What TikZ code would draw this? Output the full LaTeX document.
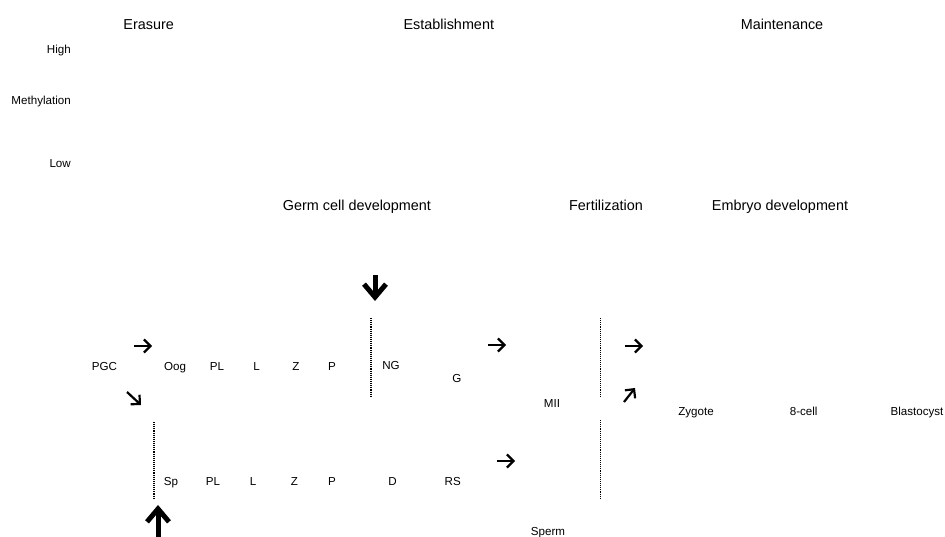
\documentclass[tikz,border=0pt]{standalone}
\usepackage{fontspec}
\setmainfont{Liberation Sans}
\usetikzlibrary{arrows.meta}
\tikzset{
  title/.style={font=\fontsize{14.4}{17}\selectfont, anchor=base, inner sep=0pt},
  lab/.style={font=\fontsize{11.6}{14}\selectfont, anchor=base, inner sep=0pt},
  axlab/.style={font=\fontsize{11.6}{14}\selectfont, anchor=base east, inner sep=0pt},
  thinarrow/.style={line width=2.2pt, -{Straight Barb[length=6.5pt,width=13pt]}},
  thickarrow/.style={line width=5pt, -{Straight Barb[length=13pt,width=22pt]}},
  divider/.style={densely dotted, line width=1.1pt}
}
\begin{document}
\begin{tikzpicture}[x=1pt,y=-1pt]
\useasboundingbox (0,0) rectangle (945,537);
% titles
\node[title] (erasure) at (148.7,29.3) {Erasure};
\node[title] (establishment) at (448.8,29.3) {Establishment};
\node[title] (maintenance) at (782,29.3) {Maintenance};
\node[title] (germ) at (357,210.7) {Germ cell development};
\node[title] (fert) at (606,210.7) {Fertilization};
\node[title] (embryo) at (780,210.7) {Embryo development};
% axis labels
\node[axlab] (high) at (71,53.3) {High};
\node[axlab] (meth) at (71,104.3) {Methylation};
\node[axlab] (low) at (71,167.7) {Low};
% row 1
\node[lab] (pgc) at (104.5,370) {PGC};
\node[lab] (oog) at (175,370) {Oog};
\node[lab] (pl1) at (217,370) {PL};
\node[lab] (l1) at (256.5,370) {L};
\node[lab] (z1) at (296,370) {Z};
\node[lab] (p1) at (332,370) {P};
\node[lab] (ng) at (391,369.5) {NG};
\node[lab] (g) at (457,382.7) {G};
\node[lab] (mii) at (552,407.3) {MII};
\node[lab] (zyg) at (696,415) {Zygote};
\node[lab] (eight) at (803.7,415) {8-cell};
\node[lab] (blast) at (917,415) {Blastocyst};
% row 2
\node[lab] (sp) at (171,485) {Sp};
\node[lab] (pl2) at (213,485) {PL};
\node[lab] (l2) at (253,485) {L};
\node[lab] (z2) at (294.5,485) {Z};
\node[lab] (p2) at (332,485) {P};
\node[lab] (d) at (392.5,485) {D};
\node[lab] (rs) at (452.7,485) {RS};
\node[lab] (sperm) at (548,535) {Sperm};
% dividers
\coordinate (d1a) at (371,318); \coordinate (d1b) at (371,396);
\coordinate (d2a) at (154,422); \coordinate (d2b) at (154,499);
\coordinate (d3a) at (600.7,318); \coordinate (d3b) at (600.7,396);
\coordinate (d4a) at (600.7,420); \coordinate (d4b) at (600.7,498);
\draw[divider] (d1a) -- (d1b);
\draw[divider] (d2a) -- (d2b);
\draw[divider] (d3a) -- (d3b);
\draw[divider] (d4a) -- (d4b);
% thin arrows
\coordinate (a1s) at (134,346); \coordinate (a1e) at (152,346);
\coordinate (a2s) at (127,392); \coordinate (a2e) at (141,405);
\coordinate (a3s) at (488,345); \coordinate (a3e) at (506,345);
\coordinate (a4s) at (497,461); \coordinate (a4e) at (515,461);
\coordinate (a5s) at (625,346); \coordinate (a5e) at (643,346);
\coordinate (a6s) at (624,402); \coordinate (a6e) at (635,388);
\draw[thinarrow] (a1s) -- (a1e);
\draw[thinarrow] (a2s) -- (a2e);
\draw[thinarrow] (a3s) -- (a3e);
\draw[thinarrow] (a4s) -- (a4e);
\draw[thinarrow] (a5s) -- (a5e);
\draw[thinarrow] (a6s) -- (a6e);
% thick arrows
\coordinate (t1s) at (375,275); \coordinate (t1e) at (375,301);
\coordinate (t2s) at (158,540); \coordinate (t2e) at (158,505);
\draw[thickarrow] (t1s) -- (t1e);
\draw[thickarrow] (t2s) -- (t2e);
\end{tikzpicture}
\end{document}
